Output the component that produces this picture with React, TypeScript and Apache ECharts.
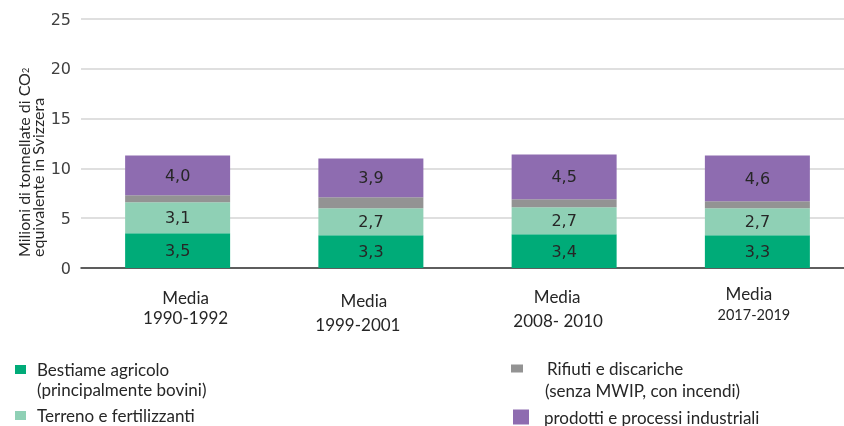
import React, { useEffect, useRef } from "react";
import * as echarts from "echarts";

const categories = ["1990-1992", "1999-2001", "2008- 2010", "2017-2019"];
const categoryPrefix = "Media";
const bestiame = [3.5, 3.3, 3.4, 3.3];
const terreno = [3.1, 2.7, 2.7, 2.7];
const rifiuti = [0.7, 1.1, 0.8, 0.7];
const industriali = [4.0, 3.9, 4.5, 4.6];
const yTicks = { min: 0, max: 25, interval: 5 };

const seriesNames = [
  "Bestiame agricolo",
  "Terreno e fertilizzanti",
  "Rifiuti e discariche",
  "prodotti e processi industriali",
];
const seriesSubNames = ["(principalmente bovini)", "", "(senza MWIP, con incendi)", ""];
const colors = ["#00AB78", "#8FD0B5", "#939393", "#8E6CB0"];

const calib = "Lato, 'Open Sans', sans-serif";

export default function App() {
  const ref = useRef<HTMLDivElement>(null);
  useEffect(() => {
    if (!ref.current) return;
    const chart = echarts.init(ref.current, undefined, { renderer: "svg" });

    const fmt = (p: any) => Number(p.value).toFixed(1).replace(".", ",");
    const labelStyle = {
      show: true,
      position: "inside",
      formatter: fmt,
      color: "#262626",
      fontSize: 16,
      fontFamily: "DejaVu Sans",
    };

    const catRich: any = {};
    const catCfg = [
      { mLh: 26, yLh: 14, mPad: [0, 0, 0, 16], yPad: [0, 0, 0, 16], yFs: 17 },
      { mLh: 32, yLh: 16, mPad: [0, 14, 0, 0], yPad: [0, 26, 0, 0], yFs: 17 },
      { mLh: 24, yLh: 24, mPad: [0, 14, 0, 0], yPad: [0, 12, 0, 0], yFs: 17 },
      { mLh: 18, yLh: 24, mPad: [0, 17, 0, 0], yPad: [0, 7, 0, 0], yFs: 14.5 },
    ];
    catCfg.forEach((c, i) => {
      catRich["m" + i] = { fontFamily: calib, fontSize: 17, color: "#262626", lineHeight: c.mLh, padding: c.mPad };
      catRich["y" + i] = { fontFamily: calib, fontSize: c.yFs, color: "#262626", lineHeight: c.yLh, padding: c.yPad };
    });

    const legendText = (lh: number, pads: number[]) => ({
      fontFamily: calib,
      fontSize: 17,
      color: "#262626",
      rich: {
        e: { fontFamily: calib, fontSize: 17, lineHeight: lh },
        a: { fontFamily: calib, fontSize: 17, color: "#262626", lineHeight: lh, padding: [0, 0, 0, pads[0]] },
        b: { fontFamily: calib, fontSize: 17, color: "#262626", lineHeight: lh, padding: [0, 0, 0, pads[1]] },
      },
    });
    const legendFormatter = (name: string) => {
      const idx = seriesNames.indexOf(name);
      const sub = seriesSubNames[idx];
      return sub ? `{e| }\n{a|${name}}\n{b|${sub}}` : `{a|${name}}`;
    };
    const legendCfg = [
      { left: 15, top: 341, w: 11, h: 9, lh: 20, pads: [6, 6] },
      { left: 15, top: 407, w: 11, h: 9, lh: 20, pads: [6, 6] },
      { left: 511, top: 338, w: 12, h: 8, lh: 22, pads: [19, 17] },
      { left: 513, top: 408.5, w: 16, h: 15, lh: 20, pads: [10, 10] },
    ];

    const seriesData = [bestiame, terreno, rifiuti, industriali];

    chart.setOption({
      animation: false,
      grid: { left: 81, width: 773, top: 19, height: 249, containLabel: false, outerBoundsMode: "none" },
      xAxis: {
        type: "category",
        data: categories,
        axisTick: { show: false },
        axisLine: { lineStyle: { color: "#333333", width: 1.5 } },
        axisLabel: {
          interval: 0,
          margin: 16,
          formatter: (v: string, i: number) => `{m${i}|${categoryPrefix}}\n{y${i}|${v}}`,
          rich: catRich,
        },
      },
      yAxis: {
        type: "value",
        min: yTicks.min,
        max: yTicks.max,
        interval: yTicks.interval,
        axisLine: { show: false },
        axisTick: { show: false },
        axisLabel: { fontFamily: "DejaVu Sans", fontSize: 16, color: "#404040", margin: 10 },
        splitLine: { lineStyle: { color: "#D4D4D4", width: 1.5 } },
      },
      legend: legendCfg.map((l, i) => ({
        data: [seriesNames[i]],
        left: l.left,
        top: l.top,
        padding: 0,
        itemWidth: l.w,
        itemHeight: l.h,
        icon: "rect",
        selectedMode: false,
        formatter: legendFormatter,
        textStyle: legendText(l.lh, l.pads),
      })),
      graphic: [
        {
          type: "text",
          x: 16,
          y: 257,
          rotation: Math.PI / 2,
          style: {
            text: "{a|Milioni di tonnellate di CO}{s|2}\n{a|equivalente in Svizzera}",
            align: "left",
            verticalAlign: "top",
            rich: {
              a: { fontFamily: calib, fontSize: 16, fill: "#262626", lineHeight: 14 },
              s: { fontFamily: calib, fontSize: 9, fill: "#262626", lineHeight: 14, verticalAlign: "bottom" },
            },
          },
        },
      ],
      series: seriesData.map((d, i) => ({
        name: seriesNames[i],
        type: "bar",
        stack: "total",
        data: d,
        barWidth: 105,
        itemStyle: { color: colors[i] },
        label: i === 2 ? { show: false } : labelStyle,
      })),
    });
    return () => chart.dispose();
  }, []);
  return <div ref={ref} style={{ position: "fixed", left: 0, top: 0, width: 844, height: 426 }} />;
}
